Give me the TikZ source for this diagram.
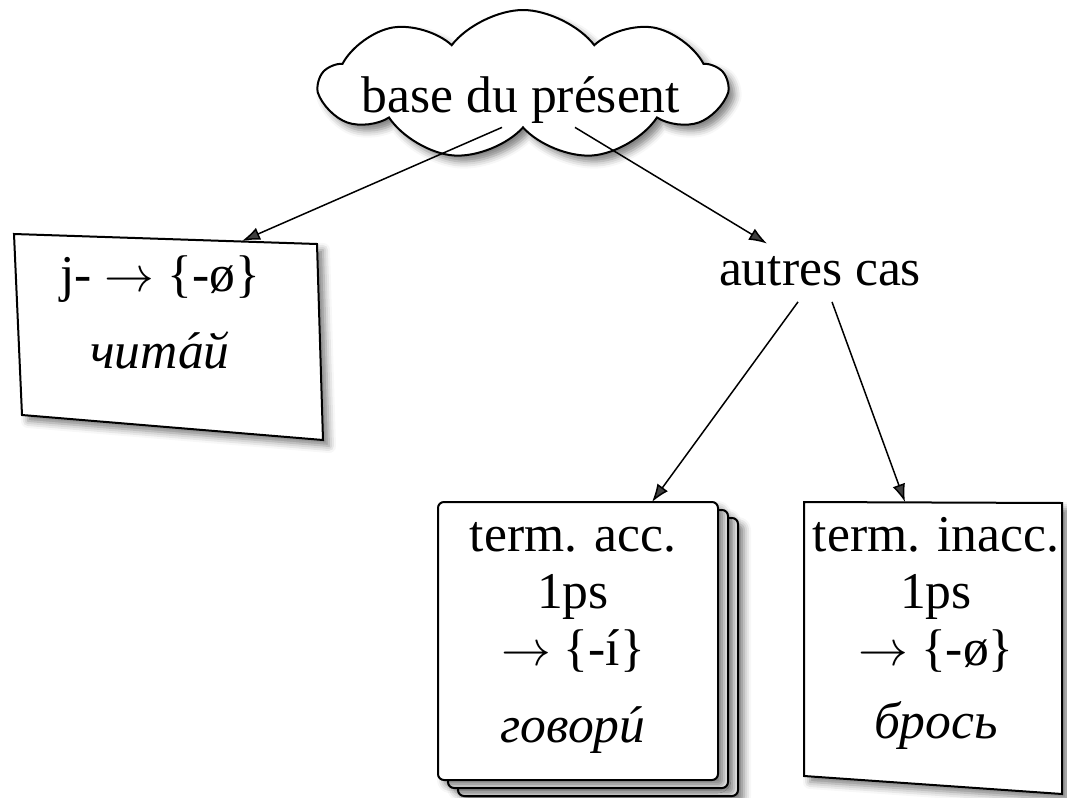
\documentclass[tikz,border=0pt]{standalone}
\usepackage{fontspec}
\setmainfont{Liberation Serif}
\usetikzlibrary{positioning}
\usetikzlibrary{calc}
\usetikzlibrary{arrows.meta}
\usetikzlibrary{shapes.symbols}
\usetikzlibrary{shadows.blur}

% stress mark over a letter
\newcommand\udar[1]{\accent"00B4 #1}
\newcommand\ra{$\rightarrow$}

\tikzset{
  soft/.style={blur shadow={shadow xshift=3pt, shadow yshift=-3pt, shadow blur radius=3.5pt, shadow opacity=50}},
  card/.style={draw, line width=1pt, fill=white, soft},
  stackcard/.style={card, rounded corners=3pt},
  txt/.style={inner sep=2pt, anchor=base, font=\fontsize{25.8}{28.5}\selectfont},
  cardtxt/.style={txt, align=center, inner sep=0pt},
  edge/.style={->, line width=0.75pt}
}

\begin{document}
\begin{tikzpicture}[x=0.5pt, y=-0.5pt, >={Latex[length=9pt,width=6.5pt]}]
        \useasboundingbox (0,0) rectangle (1067,798);

        % cards %
        \draw[card] (14,234) -- (317,244) -- (323,440) -- (22,415) -- cycle;
        \draw[stackcard] (458,518) rectangle (738,796);
        \draw[stackcard] (448,510) rectangle (728,788);
        \draw[stackcard] (438,502) rectangle (718,780);
        \draw[card] (804,502) -- (1062,503) -- (1062,794) -- (804,776) -- cycle;

        % cloud %
        \node[cloud, draw, line width=1pt, fill=white, soft, cloud puffs=9, cloud puff arc=105,
              cloud ignores aspect, minimum width=203pt, minimum height=75pt] (cloud) at (523,85) {};

        % nodes (base = last line) %
        \node[txt] (base) at (521,112) {base du présent};
        \node[txt] (autres) at (820,285) {autres cas};
        \node[cardtxt] (jcard) at (160,368) {j- \ra{} \{-ø\}\\[10pt]\textit{чит\udar{а}й}};
        \node[cardtxt] (acc) at (573,742) {term. acc.\\1ps\\\ra{} \{-í\}\\[10pt]\textit{говор\udar{и}}};
        \node[cardtxt] (inacc) at (936,738) {term. inacc.\\1ps\\\ra{} \{-ø\}\\[8pt]\textit{брось}};

        % edges %
        \coordinate (jtop) at (242,241);
        \coordinate (acctop) at (652,502);
        \coordinate (inacctop) at (905,502);
        \draw[edge] ([xshift=-9.5pt]base.south) -- (jtop);
        \draw[edge] ([xshift=27pt]base.south) -- ([xshift=-26.5pt, yshift=4pt]autres.north);
        \draw[edge] ([xshift=-11pt, yshift=-6pt]autres.south) -- (acctop);
        \draw[edge] ([xshift=6pt, yshift=-6pt]autres.south) -- (inacctop);
\end{tikzpicture}
\end{document}
